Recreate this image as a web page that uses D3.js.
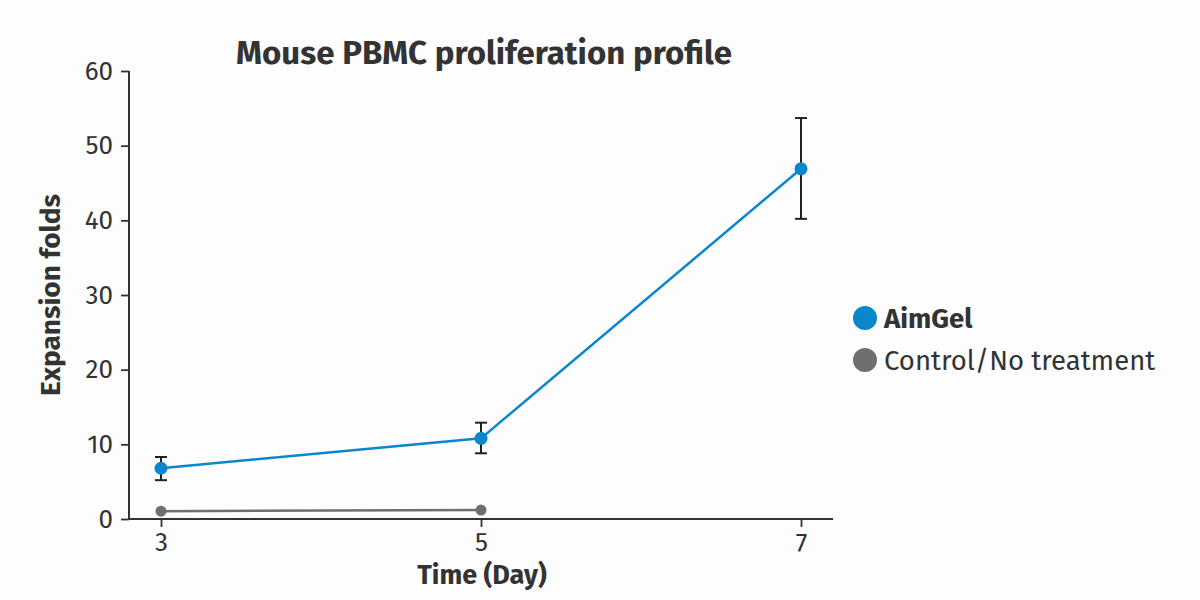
<!DOCTYPE html>
<html>
<head>
<meta charset="utf-8">
<script src="https://cdn.jsdelivr.net/npm/d3@7"></script>
<style>
  body { margin: 0; background: #fdfdfd; }
  svg, svg text { font-family: "Fira Sans", "Noto Sans", "Open Sans", sans-serif; }
</style>
</head>
<body>
<div id="chart"></div>
<script>
// data
var days = [3, 5, 7];
var yTicks = [0, 10, 20, 30, 40, 50, 60];
var aimGelMean = [6.8, 10.8, 46.9];
var aimGelLow = [5.2, 8.8, 40.2];
var aimGelHigh = [8.3, 12.9, 53.7];
var controlDays = [3, 5];
var controlMean = [1.05, 1.2];
var seriesNames = ['AimGel', 'Control/No treatment'];
var seriesColors = ['#0a87cc', '#6f6f6f'];

var width = 1200, height = 600;
var textColor = '#333333';
var fontStack = '"Fira Sans", "Noto Sans", "Open Sans", sans-serif';

var svg = d3.select('#chart')
    .append('svg')
    .attr('width', width)
    .attr('height', height);

var x = d3.scaleLinear().domain([2.8, 7.2]).range([129, 833]);
var y = d3.scaleLinear().domain([0, 60]).range([519, 71]);

// axes
var xAxis = svg.append('g')
    .attr('transform', 'translate(0,' + y(0) + ')')
    .call(d3.axisBottom(x).tickValues(days).tickSize(8).tickPadding(6).tickFormat(d3.format('d')));

var yAxis = svg.append('g')
    .attr('transform', 'translate(' + x(2.8) + ',0)')
    .call(d3.axisLeft(y).tickValues(yTicks).tickSize(8).tickPadding(8));

[xAxis, yAxis].forEach(function(g) {
    g.attr('font-family', fontStack).attr('font-size', 26);
    g.select('.domain').attr('stroke', textColor).attr('stroke-width', 2);
    g.selectAll('.tick line').attr('stroke', textColor).attr('stroke-width', 1.8);
    g.selectAll('.tick text')
        .attr('fill', textColor)
        .style('font-size', '26px');
});
// plain domain lines, no outer tick stubs
xAxis.select('.domain').attr('d', 'M' + x(2.8) + ',0H' + x(7.2));
yAxis.select('.domain').attr('d', 'M0,' + y(60) + 'V' + y(0));

// titles
svg.append('text')
    .attr('x', 484).attr('y', 64)
    .attr('text-anchor', 'middle')
    .attr('fill', textColor)
    .style('font-size', '33px').style('font-weight', 'bold')
    .text('Mouse PBMC proliferation profile');

svg.append('text')
    .attr('x', 482).attr('y', 584)
    .attr('text-anchor', 'middle')
    .attr('fill', textColor)
    .style('font-size', '27px').style('font-weight', 'bold')
    .text('Time (Day)');

svg.append('text')
    .attr('transform', 'translate(60,' + y(30) + ') rotate(-90)')
    .attr('text-anchor', 'middle')
    .attr('fill', textColor)
    .style('font-size', '28px').style('font-weight', 'bold')
    .text('Expansion folds');

// lines
var line = d3.line()
    .x(function(d) { return x(d[0]); })
    .y(function(d) { return y(d[1]); });

var aimGelData = days.map(function(d, i) {
    return { day: d, mean: aimGelMean[i], low: aimGelLow[i], high: aimGelHigh[i] };
});
var controlData = controlDays.map(function(d, i) {
    return { day: d, mean: controlMean[i] };
});

svg.append('path')
    .datum(controlData.map(function(d) { return [d.day, d.mean]; }))
    .attr('d', line)
    .attr('fill', 'none')
    .attr('stroke', seriesColors[1])
    .attr('stroke-width', 2.5);

svg.selectAll('circle.control')
    .data(controlData).enter().append('circle')
    .attr('class', 'control')
    .attr('cx', function(d) { return x(d.day); })
    .attr('cy', function(d) { return y(d.mean); })
    .attr('r', 5.5)
    .attr('fill', seriesColors[1]);

// error bars
var capHalf = 6;
var err = svg.selectAll('g.err')
    .data(aimGelData).enter().append('g')
    .attr('class', 'err')
    .attr('stroke', '#222')
    .attr('stroke-width', 2);

err.append('line')
    .attr('x1', function(d) { return x(d.day); })
    .attr('x2', function(d) { return x(d.day); })
    .attr('y1', function(d) { return y(d.low); })
    .attr('y2', function(d) { return y(d.high); });
err.append('line')
    .attr('x1', function(d) { return x(d.day) - capHalf; })
    .attr('x2', function(d) { return x(d.day) + capHalf; })
    .attr('y1', function(d) { return y(d.high); })
    .attr('y2', function(d) { return y(d.high); });
err.append('line')
    .attr('x1', function(d) { return x(d.day) - capHalf; })
    .attr('x2', function(d) { return x(d.day) + capHalf; })
    .attr('y1', function(d) { return y(d.low); })
    .attr('y2', function(d) { return y(d.low); });

svg.append('path')
    .datum(aimGelData.map(function(d) { return [d.day, d.mean]; }))
    .attr('d', line)
    .attr('fill', 'none')
    .attr('stroke', seriesColors[0])
    .attr('stroke-width', 2.5);

svg.selectAll('circle.aimgel')
    .data(aimGelData).enter().append('circle')
    .attr('class', 'aimgel')
    .attr('cx', function(d) { return x(d.day); })
    .attr('cy', function(d) { return y(d.mean); })
    .attr('r', 6.5)
    .attr('fill', seriesColors[0]);

// legend
var legend = svg.selectAll('g.legend')
    .data(seriesNames).enter().append('g')
    .attr('class', 'legend')
    .attr('transform', function(d, i) { return 'translate(865,' + (318 + i * 42) + ')'; });

legend.append('circle')
    .attr('r', 12)
    .attr('fill', function(d, i) { return seriesColors[i]; });

legend.append('text')
    .attr('x', 19).attr('dy', '0.35em')
    .attr('fill', textColor)
    .style('font-size', '27.5px')
    .style('font-weight', function(d, i) { return i === 0 ? 'bold' : 'normal'; })
    .text(function(d) { return d; });
</script>
</body>
</html>
